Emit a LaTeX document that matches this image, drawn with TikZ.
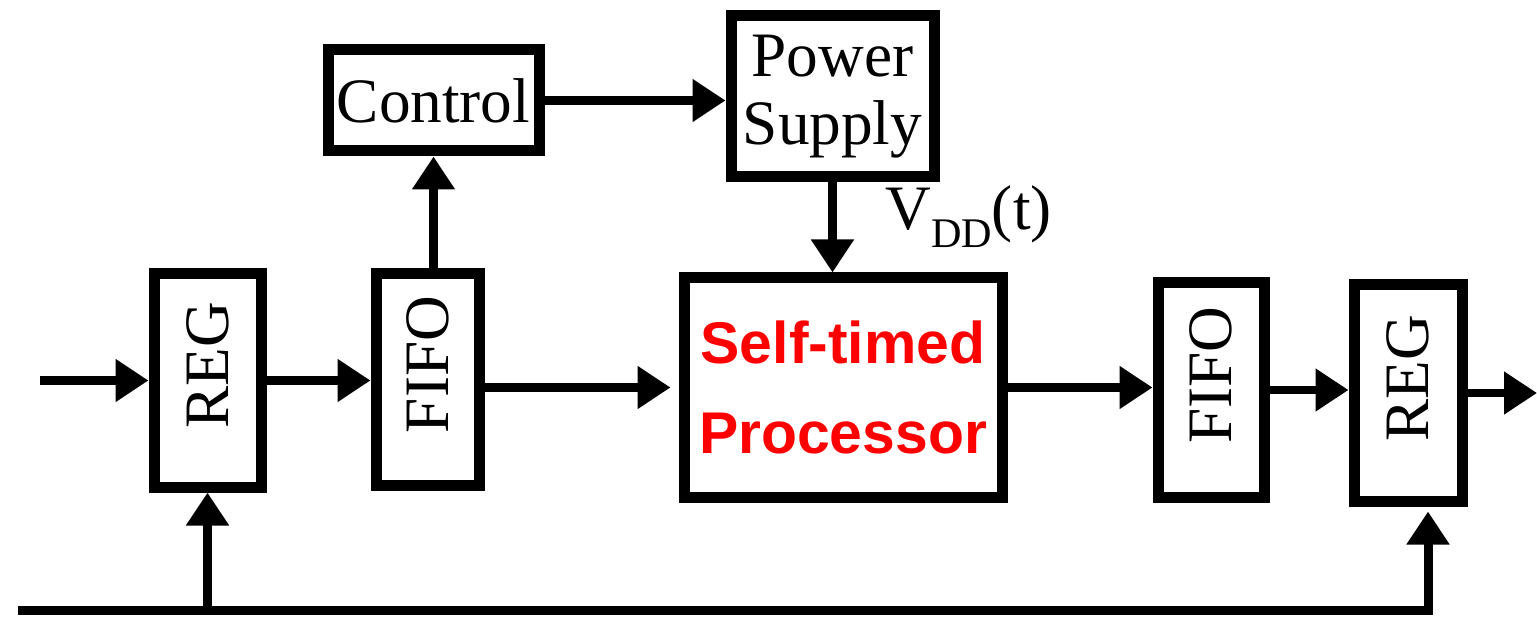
\documentclass[tikz,border=0pt]{standalone}
\usepackage{fontspec}
\setmainfont{Liberation Serif}
\setsansfont{Liberation Sans}
\usetikzlibrary{arrows.meta}

\begin{document}
\begin{tikzpicture}[>={Triangle[length=0.66cm, width=0.82cm]},
    blk/.style={draw, line width=0.22cm, inner sep=0pt, font=\fontsize{36}{38.5}\selectfont},
    sig/.style={->, line width=0.18cm}]
    \useasboundingbox (0,0) rectangle (30.74,12.32);
    % blocks
    \node[blk, minimum width=2.14cm, minimum height=4.26cm] (reg1) at (4.15,4.71) {\rotatebox{90}{\hspace{0.6cm}REG}};
    \node[blk, minimum width=2.06cm, minimum height=4.22cm] (fifo1) at (8.55,4.73) {\rotatebox{90}{\hspace{0.6cm}FIFO}};
    \node[blk, minimum width=4.22cm, minimum height=2.02cm] (ctrl) at (8.67,10.31) {Control};
    \node[blk, minimum width=4.06cm, minimum height=3.22cm, align=center] (pwr) at (16.65,10.39) {Power\\Supply};
    \node[blk, minimum width=6.36cm, minimum height=4.38cm, align=center, text=red,
          font=\sffamily\bfseries\fontsize{33.5}{51}\selectfont] (proc) at (16.86,4.57) {Self-timed\\Processor};
    \node[blk, minimum width=2.12cm, minimum height=4.28cm] (fifo2) at (24.22,4.52) {\rotatebox{90}{\hspace{0.6cm}FIFO}};
    \node[blk, minimum width=2.16cm, minimum height=4.32cm] (reg2) at (28.16,4.46) {\rotatebox{90}{\hspace{0.6cm}REG}};
    \node[anchor=base west, inner sep=0pt, font=\fontsize{36}{38.5}\selectfont] (vdd) at (17.7,7.72)
        {V\raisebox{-10pt}{\fontsize{24}{24}\selectfont DD}(t)};
    % signals
    \coordinate (in) at (0.8,4.71);
    \coordinate (out) at (30.74,4.46);
    \coordinate (busL) at (0.36,0.12);
    \coordinate (busR) at (28.56,0.12);
    \draw[sig] (in) -- (reg1.west);
    \draw[sig] (reg1.east) -- (reg1.east -| fifo1.west);
    \draw[sig, shorten >=0.16cm] (fifo1.east |- proc.west) -- (proc.west);
    \draw[sig] (ctrl.south |- fifo1.north) -- (ctrl.south);
    \draw[sig] (ctrl.east) -- (ctrl.east -| pwr.west);
    \draw[sig] (pwr.south) -- (pwr.south |- proc.north);
    \draw[sig] (proc.east) -- (proc.east -| fifo2.west);
    \draw[sig] (fifo2.east) -- (fifo2.east -| reg2.west);
    \draw[sig] (reg2.east) -- (out);
    % clock bus
    \draw[sig, shorten >=0.1cm] (busL) -- (busR) -- (busR |- reg2.south);
    \draw[sig] (reg1.south |- busL) -- (reg1.south);
\end{tikzpicture}
\end{document}
